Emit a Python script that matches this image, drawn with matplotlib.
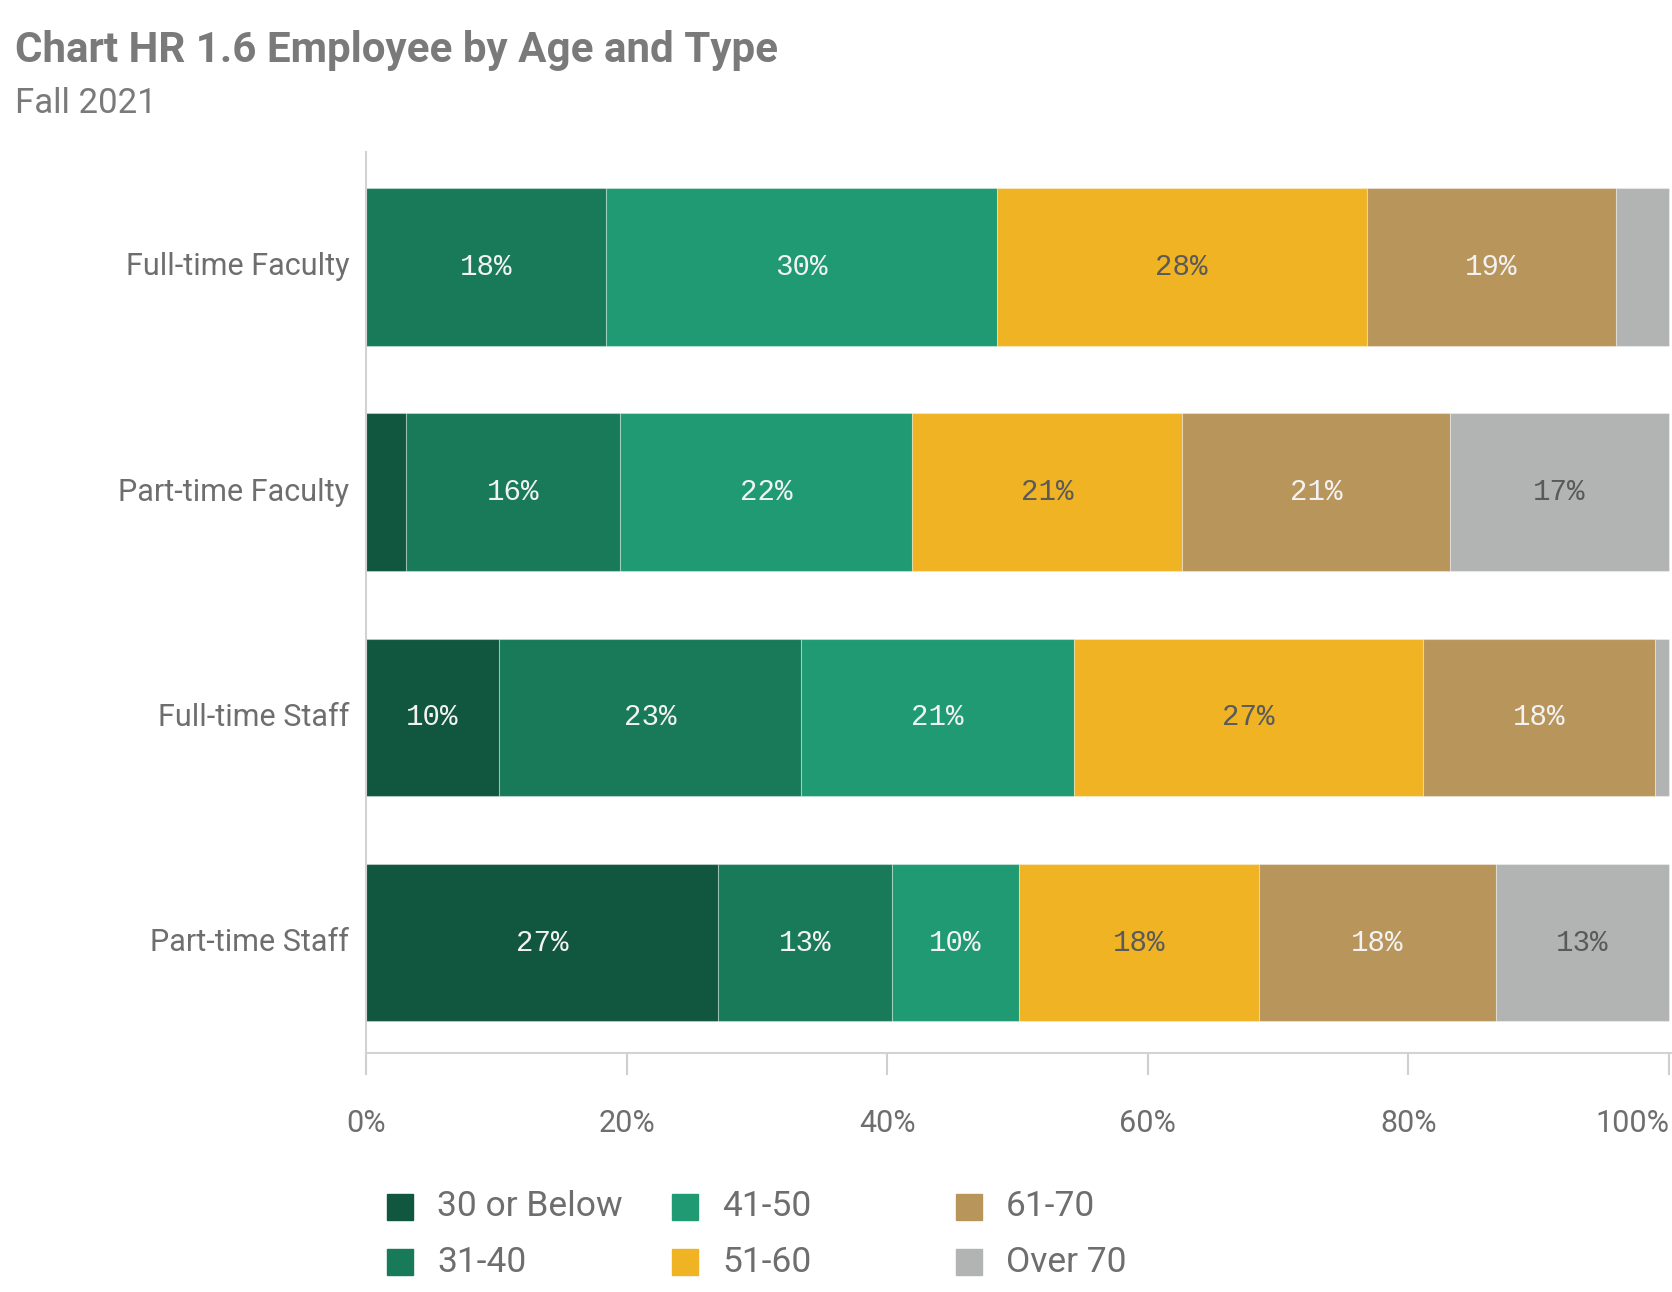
import matplotlib
matplotlib.use("Agg")
import matplotlib.pyplot as plt
from matplotlib import font_manager
from matplotlib.patches import Rectangle


def pick_font(names):
    """first installed family from names"""
    for name in names:
        try:
            font_manager.findfont(name, fallback_to_default=False)
            return name
        except ValueError:
            pass
    return "DejaVu Sans"


SANS = pick_font(["Roboto", "Lato"])
MONO = pick_font(["Liberation Mono", "DejaVu Sans Mono"])

# data (percent of employees)
categories = ["Full-time Faculty", "Part-time Faculty", "Full-time Staff", "Part-time Staff"]
age_groups = ["30 or Below", "31-40", "41-50", "51-60", "61-70", "Over 70"]
age_30_or_below = [0.0, 3.1, 10.2, 27.0]
age_31_40 = [18.4, 16.4, 23.2, 13.4]
age_41_50 = [30.0, 22.4, 20.9, 9.7]
age_51_60 = [28.4, 20.7, 26.8, 18.4]
age_61_70 = [19.1, 20.6, 17.8, 18.2]
age_over_70 = [4.1, 16.8, 1.1, 13.3]
x_ticks = [0, 20, 40, 60, 80, 100]

series = [age_30_or_below, age_31_40, age_41_50, age_51_60, age_61_70, age_over_70]
colors = ["#11563f", "#187a58", "#1f9a72", "#efb324", "#b8955a", "#b2b4b4"]
label_colors = ["#f2f2f2", "#f2f2f2", "#f2f2f2", "#5a5a5a", "#f2f2f2", "#5a5a5a"]

W, H = 1672, 1292
fig = plt.figure(figsize=(W / 100, H / 100), dpi=100)
ax = fig.add_axes([366 / W, 1 - 1053 / H, (1672 - 366) / W, (1053 - 152) / H])

left = [0.0] * len(categories)
for vals, col, tcol in zip(series, colors, label_colors):
    bars = ax.barh(categories, vals, left=left, height=0.70, color=col,
                   edgecolor=(1, 1, 1, 0.35), linewidth=0.8)
    for rect, v in zip(bars, vals):
        if v >= 5:
            ax.text(rect.get_x() + rect.get_width() / 2, rect.get_y() + rect.get_height() / 2,
                    f"{round(v)}%", ha="center", va="center", color=tcol,
                    fontsize=21, family=MONO)
    left = [a + b for a, b in zip(left, vals)]

ax.set_xlim(0, 100 * (1672 - 366) / (1669 - 366))
ax.set_ylim(3.49, -0.51)
ax.set_xticks(x_ticks)
ax.set_xticklabels([f"{t}%" for t in x_ticks], family=SANS, fontsize=22, color="#6e6e6e")
ax.get_xticklabels()[-1].set_horizontalalignment("right")  # keep 100% inside the figure
ax.tick_params(axis="x", length=16, width=1.5, color="#cfcfcf", pad=24)
ax.tick_params(axis="y", length=0, pad=12)
for lab in ax.get_yticklabels():
    lab.set_family(SANS)
    lab.set_fontsize(22)
    lab.set_color("#6e6e6e")
    lab.set_verticalalignment("center")

for side in ["top", "right"]:
    ax.spines[side].set_visible(False)
for side in ["left", "bottom"]:
    ax.spines[side].set_color("#d2d2d2")
    ax.spines[side].set_linewidth(1.5)

# title block
fig.text(15 / W, 1 - 62 / H, "Chart HR 1.6 Employee by Age and Type", family=SANS,
         fontweight="bold", fontsize=30.3, color="#7a7a7a", va="baseline")
fig.text(15 / W, 1 - 113 / H, "Fall 2021", family=SANS, fontsize=25,
         color="#7a7a7a", va="baseline")

# legend: two rows, three columns
col_x = [387, 672, 956]
row_y = [1207, 1262]
for i, (name, col) in enumerate(zip(age_groups, colors)):
    cx = col_x[i // 2]
    cy = row_y[i % 2]
    fig.patches.append(Rectangle((cx / W, 1 - (cy + 13) / H), 26 / W, 26 / H,
                                 transform=fig.transFigure, color=col))
    fig.text((cx + 50) / W, 1 - cy / H, name, family=SANS, fontsize=25.5,
             color="#6e6e6e", va="center")

fig.savefig("out.png", dpi=100)
